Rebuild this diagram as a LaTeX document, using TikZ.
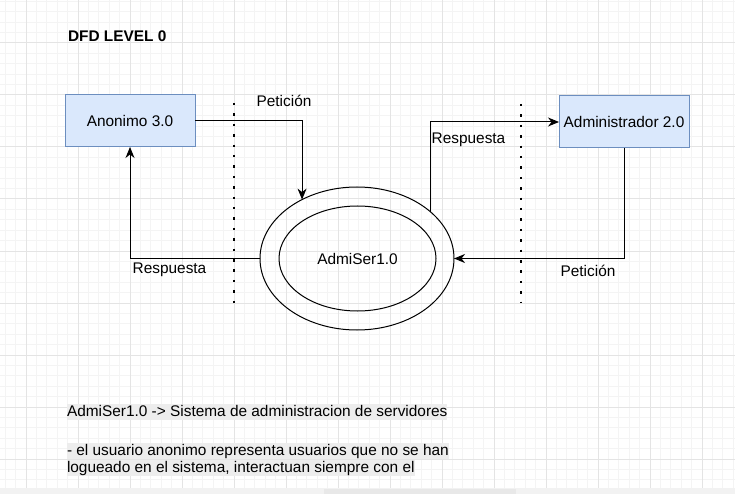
\documentclass[tikz,border=0pt]{standalone}
\usepackage{fontspec}
\setmainfont{Liberation Sans}
\usepackage{xcolor}
\usetikzlibrary{calc,arrows.meta,shapes.geometric}
\definecolor{boxfill}{HTML}{DAE8FC}
\definecolor{boxline}{HTML}{6C8EBF}
\definecolor{gridmin}{HTML}{F4F4F4}
\definecolor{gridmaj}{HTML}{E4E4E4}
\definecolor{hilite}{HTML}{EDEDED}

\begin{document}
\begin{tikzpicture}[x=1pt,y=-1pt,every node/.style={font=\fontsize{15.4}{17}\selectfont,inner sep=0pt,outer sep=0pt},
	box/.style={draw=boxline,fill=boxfill,line width=1pt,minimum width=130pt,minimum height=52pt},
	proc/.style={draw,ellipse,line width=1pt},
	note/.style={fill=hilite,anchor=west,text height=12.5pt,text depth=4pt},
	flow/.style={line width=1pt,-{Stealth[length=11pt,width=9pt,inset=3.5pt]}},
	sep/.style={line width=2.5pt,dash pattern=on 2.5pt off 7.9pt}]
	\useasboundingbox (0,0) rectangle (735,494);
	\fill[white] (0,0) rectangle (735,494);
	\foreach \i in {0,...,70} \draw[gridmin,line width=1pt] (5.2+10.4*\i,0) -- (5.2+10.4*\i,494);
	\foreach \j in {0,...,47} \draw[gridmin,line width=1pt] (0,1.4+10.4*\j) -- (735,1.4+10.4*\j);
	\foreach \i in {0,...,13} \draw[gridmaj,line width=1pt] (26+52*\i,0) -- (26+52*\i,494);
	\foreach \j in {0,...,9} \draw[gridmaj,line width=1pt] (0,43+52*\j) -- (735,43+52*\j);
	\fill[gray!10] (0,488) rectangle (735,494);
	\fill[gray!18] (324,489) rectangle (516,494);
	\node[font=\fontsize{15.4}{17}\selectfont\bfseries,anchor=west] (title) at (68,36) {DFD LEVEL 0};
	\node[box] (anon) at (130,121) {Anonimo 3.0};
	\node[box] (admin) at (624,122) {Administrador 2.0};
	\node[proc,minimum width=194pt,minimum height=143pt] (proc) at (357,258.5) {};
	\node[proc,minimum width=157pt,minimum height=105pt] (procin) at (357.5,258.5) {AdmiSer1.0};
	\draw[sep] (234,103) -- (234,303);
	\draw[sep] (521,104) -- (521,303);
	\begin{scope}[flow]
	\draw (anon.east) -| (proc.133);
	\draw (proc.west) -| (anon.south);
	\draw (proc.32) |- (admin.west);
	\draw (admin.south) |- (proc.east);
	\end{scope}
	\node (pet1) at (284,101) {Petición};
	\node (resp1) at (169.5,270) {Respuesta};
	\node (resp2) at (468.5,140) {Respuesta};
	\node (pet2) at (588,271) {Petición};
	\node[note] (desc) at (67,412) {AdmiSer1.0 -> Sistema de administracion de servidores};
	\node[note] (line1) at (67,451) {- el usuario anonimo representa usuarios que no se han};
	\node[note] (line2) at (67,468) {logueado en el sistema, interactuan siempre con el};
\end{tikzpicture}
\end{document}
